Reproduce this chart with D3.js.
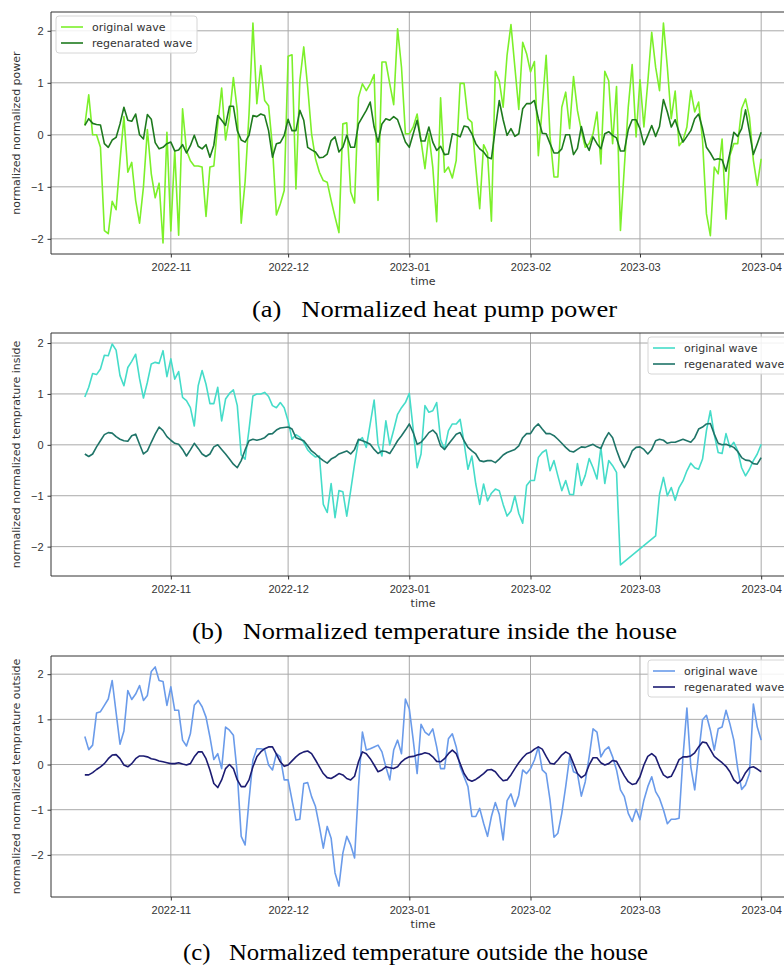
<!DOCTYPE html>
<html>
<head>
<meta charset="utf-8">
<script src="https://cdn.jsdelivr.net/npm/d3@7/dist/d3.min.js"></script>
<style>
  body { margin: 0; background: #fff; }
</style>
</head>
<body>
<div class="figure"></div>
<script>
// one value per day, starting 2022-10-10 and ending 2023-04-01
const startDay = "2022-10-10";
const monthTicks = ["2022-11-01", "2022-12-01", "2023-01-01", "2023-02-01", "2023-03-01", "2023-04-01"];
const yTicks = [-2, -1, 0, 1, 2];
const legendNames = ["original wave", "regenarated wave"];

const powerOriginal = [
  0.18, 0.77, 0.0, 0.0, -0.24, -1.84, -1.9, -1.28, -1.44, -0.5,
  0.35, -0.72, -0.53, -1.26, -1.7, -1.0, 0.1, -0.75, -1.21, -0.93,
  -2.08, 0.05, -1.85, -0.3, -1.93, 0.5, -0.3, -0.5, -0.6, -0.6,
  -0.62, -1.57, -0.62, -0.6, 0.2, 0.9, -0.1, 0.35, 1.1, 0.47,
  -1.7, -0.9, 0.4, 2.15, 0.6, 1.33, 0.66, 0.56, -0.24, -1.54,
  -1.33, -1.07, 1.51, 1.54, -1.04, 1.04, 1.69, 0.92, 0.02, -0.46,
  -0.72, -0.88, -0.91, -1.26, -1.58, -1.88, 0.21, 0.23, -1.1, -1.31,
  0.72, 0.98, 0.85, 0.98, 1.16, -1.26, 1.4, 1.4, 0.98, 0.58,
  2.04, 1.3, 0.02, 0.02, 0.15, 0.4, -0.11, -0.65, 0.02, -0.62,
  -1.67, 0.71, -0.72, -0.62, -0.83, -0.49, 0.99, 0.99, 0.31, 0.24,
  -0.62, -1.42, -0.19, -0.35, -1.66, 1.22, 1.04, 0.53, 1.53, 2.12,
  1.3, 0.49, 1.78, 1.56, 1.21, 1.41, -0.4, 0.53, 1.53, -0.04,
  -0.81, -0.81, 0.53, 0.82, 0.12, 1.12, 0.47, 0.08, -0.24, -0.17,
  0.02, 0.44, -0.56, 1.22, 1.04, -0.17, 0.93, -1.84, -0.62, 0.53,
  1.35, -0.04, 1.06, 0.15, 1.01, 1.97, 1.3, 0.85, 2.15, 1.3,
  0.31, 0.84, -0.21, -0.11, 0.15, 0.85, 0.44, 0.63, -0.11, -1.52,
  -1.94, -0.62, -0.75, -0.08, -1.62, -0.4, -0.17, -0.17, 0.5, 0.69,
  0.34, -0.49, -0.97, -0.46
];
const powerRegen = [
  0.18, 0.31, 0.22, 0.2, 0.19, -0.17, -0.24, -0.1, -0.05, 0.21,
  0.53, 0.28, 0.26, 0.4, 0.0, -0.08, 0.39, 0.3, -0.15, -0.27,
  -0.24, -0.17, -0.14, -0.31, -0.29, -0.19, -0.35, -0.21, -0.01, -0.22,
  -0.27, -0.19, -0.43, -0.2, 0.37, 0.28, 0.18, 0.55, 0.55, 0.08,
  -0.1, -0.14, -0.01, 0.37, 0.35, 0.4, 0.37, 0.08, -0.43, -0.17,
  -0.15, -0.01, 0.3, 0.08, 0.08, 0.47, 0.28, -0.24, -0.29, -0.33,
  -0.44, -0.43, -0.37, -0.11, -0.04, -0.33, -0.24, -0.01, -0.24, -0.24,
  0.21, 0.34, 0.47, 0.63, 0.15, -0.14, 0.21, 0.31, 0.28, 0.35,
  0.29, 0.08, -0.14, -0.24, 0.02, 0.28, -0.12, -0.12, 0.15, -0.14,
  -0.3, -0.22, -0.38, -0.37, 0.02, 0.0, -0.04, 0.17, 0.15, 0.02,
  -0.17, -0.27, -0.33, -0.43, -0.46, 0.12, 0.66, 0.29, -0.01, 0.12,
  -0.03, 0.02, 0.5, 0.6, 0.6, 0.66, 0.31, 0.03, 0.02, -0.17,
  -0.35, -0.35, -0.27, 0.0, 0.0, -0.38, -0.26, 0.16, -0.15, -0.3,
  -0.04, -0.17, -0.27, 0.02, 0.06, -0.01, -0.06, -0.31, -0.31, 0.1,
  0.29, 0.29, 0.12, -0.19, -0.01, 0.18, -0.03, 0.16, 0.68, 0.44,
  0.15, 0.29, 0.05, -0.14, -0.03, 0.08, 0.31, 0.4, 0.12, -0.24,
  -0.35, -0.48, -0.46, -0.48, -0.7, -0.35, 0.05, -0.03, 0.12, 0.48,
  0.05, -0.38, -0.17, 0.05
];

// null = day missing in the original series (line just jumps over it)
const insideOriginal = [
  0.94, 1.13, 1.4, 1.38, 1.49, 1.76, 1.75, 1.98, 1.86, 1.36,
  1.16, 1.52, 1.64, 1.78, 1.3, 0.92, 1.23, 1.59, 1.62, 1.6,
  1.85, 1.34, 1.69, 1.29, 1.44, 0.93, 0.87, 0.73, 0.37, 1.16,
  1.46, 1.19, 0.81, 0.81, 1.13, 0.47, 0.9, 1.01, 1.08, 0.77,
  -0.2, -0.28, 0.3, 0.96, 1.0, 1.0, 1.03, 0.95, 0.77, 0.73,
  0.83, 0.73, 0.47, 0.11, 0.2, 0.15, 0.05, -0.1, -0.18, -0.24,
  -0.22, -1.17, -1.33, -0.76, -1.43, -0.9, -0.92, -1.4, -0.9, -0.38,
  0.08, 0.14, -0.05, 0.41, 0.88, 0.0, -0.22, 0.47, 0.0, 0.29,
  0.6, 0.73, 0.83, 1.01, 0.3, -0.45, -0.18, 0.77, 0.64, 0.67,
  0.83, 0.1, -0.09, 0.28, 0.41, 0.41, 0.5, 0.05, -0.48, -0.22,
  -0.77, -1.17, -0.77, -1.1, -0.95, -0.87, -0.9, -1.17, -1.4, -1.3,
  -1.0, -1.35, -1.54, -0.8, -0.7, -0.7, -0.25, -0.15, -0.1, -0.51,
  -0.31, -0.61, -0.9, -0.7, -0.97, -0.98, -0.37, -0.8, -0.6, -0.27,
  -0.45, -0.67, -0.05, -0.76, -0.31, -0.41, -0.54, -2.36, null, null,
  null, null, null, null, null, null, -1.79, -0.97, -0.64, -1.0,
  -0.84, -1.09, -0.84, -0.71, -0.51, -0.36, -0.45, -0.48, -0.28, 0.28,
  0.67, 0.2, -0.15, -0.17, 0.22, -0.05, 0.05, -0.12, -0.45, -0.61,
  -0.48, -0.31, -0.18, 0.01
];
const insideRegen = [
  -0.18, -0.23, -0.18, -0.04, 0.08, 0.2, 0.24, 0.23, 0.16, 0.11,
  0.08, 0.07, 0.18, 0.21, 0.01, -0.18, -0.12, 0.05, 0.21, 0.35,
  0.28, 0.16, 0.09, 0.03, 0.01, -0.09, -0.22, -0.1, 0.03, -0.07,
  -0.18, -0.23, -0.18, -0.04, 0.0, -0.09, -0.18, -0.28, -0.38, -0.45,
  -0.31, -0.1, 0.08, 0.11, 0.09, 0.11, 0.14, 0.21, 0.22, 0.29,
  0.33, 0.34, 0.35, 0.31, 0.14, 0.11, 0.08, -0.02, -0.12, -0.18,
  -0.25, -0.31, -0.36, -0.28, -0.24, -0.18, -0.15, -0.12, -0.18, -0.09,
  0.11, 0.08, 0.05, 0.01, -0.09, -0.17, -0.12, -0.13, -0.17, -0.05,
  0.08, 0.18, 0.29, 0.41, 0.24, 0.01, 0.05, 0.14, 0.24, 0.29,
  0.21, -0.02, -0.09, 0.01, 0.11, 0.21, 0.24, 0.08, -0.05, -0.12,
  -0.18, -0.31, -0.33, -0.31, -0.31, -0.35, -0.28, -0.2, -0.15, -0.12,
  -0.09, -0.02, 0.14, 0.22, 0.22, 0.34, 0.41, 0.31, 0.22, 0.22,
  0.18, 0.11, 0.03, -0.05, -0.12, -0.14, -0.09, -0.04, -0.05, -0.02,
  0.01, -0.04, -0.07, 0.11, 0.24, 0.14, -0.1, -0.31, -0.45, -0.31,
  -0.12, -0.05, -0.04, -0.09, -0.18, -0.09, 0.08, 0.11, 0.09, 0.03,
  0.05, 0.05, 0.08, 0.11, 0.08, 0.05, 0.14, 0.31, 0.35, 0.41,
  0.42, 0.21, 0.03, 0.0, 0.01, -0.02, -0.05, -0.13, -0.25, -0.3,
  -0.31, -0.37, -0.38, -0.25
];

const outsideOriginal = [
  0.62, 0.33, 0.43, 1.14, 1.17, 1.31, 1.45, 1.86, 1.15, 0.45,
  0.74, 1.64, 1.44, 1.56, 1.75, 1.42, 1.53, 2.06, 2.16, 1.86,
  1.84, 1.31, 1.72, 1.2, 1.2, 0.54, 0.41, 0.68, 1.31, 1.42,
  1.28, 1.05, 0.61, 0.11, 0.24, -0.09, 0.83, 0.76, 0.65, -0.2,
  -1.59, -1.78, -0.79, 0.1, 0.35, 0.35, 0.33, -0.01, -0.12, 0.24,
  0.17, -0.34, -0.34, -0.79, -1.23, -1.21, -0.42, -0.4, -0.71, -0.93,
  -1.37, -1.85, -1.37, -1.63, -2.4, -2.69, -1.96, -1.59, -1.78, -2.07,
  -0.5, 0.72, 0.32, 0.35, 0.39, 0.43, 0.28, -0.05, -0.34, 0.32,
  0.54, 0.24, 1.45, 1.23, 0.54, -0.2, 0.89, 0.72, 0.65, 0.79,
  0.39, -0.09, -0.09, 0.57, 0.68, 0.39, -0.05, -0.27, -0.49, -1.15,
  -1.15, -0.97, -1.3, -1.59, -1.15, -0.84, -1.1, -1.67, -0.8, -0.65,
  -0.93, -0.68, -0.12, -0.2, -0.09, 0.1, 0.39, -0.12, -0.2, -0.79,
  -1.61, -1.52, -1.08, -0.49, 0.17, -0.16, -0.2, -0.7, -0.38, 0.17,
  0.79, 0.72, 0.17, 0.32, 0.39, 0.17, -0.12, -0.56, -0.71, -1.08,
  -1.26, -0.99, -1.22, -0.79, -0.49, -0.27, -0.6, -0.75, -1.0, -1.31,
  -1.21, -1.21, -1.19, 0.17, 1.25, -0.05, -0.56, 0.24, 0.99, 1.09,
  0.76, 0.32, 0.79, 0.83, 1.2, 0.9, 0.54, -0.09, -0.55, -0.45,
  -0.2, 1.34, 0.83, 0.54
];
const outsideRegen = [
  -0.23, -0.23, -0.18, -0.11, -0.05, 0.02, 0.13, 0.21, 0.22, 0.13,
  -0.01, -0.05, 0.02, 0.13, 0.19, 0.19, 0.17, 0.13, 0.11, 0.08,
  0.06, 0.04, 0.02, 0.02, 0.04, 0.01, -0.01, 0.02, 0.17, 0.28,
  0.28, 0.13, -0.12, -0.42, -0.51, -0.34, -0.09, 0.0, -0.09, -0.34,
  -0.49, -0.49, -0.34, -0.05, 0.17, 0.28, 0.35, 0.39, 0.39, 0.23,
  0.06, -0.04, -0.01, 0.08, 0.17, 0.24, 0.28, 0.3, 0.24, 0.1,
  -0.05, -0.2, -0.29, -0.31, -0.26, -0.2, -0.23, -0.31, -0.34, -0.26,
  0.06, 0.28, 0.24, 0.13, -0.01, -0.16, -0.12, -0.05, -0.07, -0.09,
  -0.05, 0.06, 0.13, 0.17, 0.18, 0.21, 0.23, 0.26, 0.24, 0.17,
  0.07, 0.06, 0.13, 0.24, 0.32, 0.24, 0.02, -0.2, -0.33, -0.37,
  -0.33, -0.27, -0.2, -0.12, -0.11, -0.16, -0.27, -0.36, -0.34, -0.23,
  -0.09, 0.04, 0.15, 0.24, 0.27, 0.34, 0.39, 0.34, 0.18, 0.03,
  0.01, 0.1, 0.21, 0.28, 0.23, 0.02, -0.2, -0.29, -0.23, -0.01,
  0.15, 0.15, 0.04, -0.01, 0.02, 0.09, 0.07, -0.09, -0.25, -0.38,
  -0.44, -0.42, -0.27, -0.01, 0.18, 0.24, 0.17, -0.05, -0.23, -0.29,
  -0.26, -0.09, 0.11, 0.17, 0.17, 0.19, 0.26, 0.39, 0.5, 0.48,
  0.33, 0.18, 0.11, 0.04, -0.04, -0.16, -0.34, -0.42, -0.34, -0.18,
  -0.07, -0.05, -0.1, -0.16
];

const width = 784;
const height = 966;
const plotLeft = 51;
const plotRight = 795;   // the right edge of the figure is cut off

const panels = [
  {top: 12, bottom: 254, original: powerOriginal, regen: powerRegen,
   colors: ["#7cf02a", "#1e7a1e"], ylabel: "normalized normalized power",
   legendLeft: true, caption: "(a)\u2002 Normalized heat pump power", capX: 252, capW: 365},
  {top: 333, bottom: 576, original: insideOriginal, regen: insideRegen,
   colors: ["#45dcc9", "#1f7468"], ylabel: "normalized normalized temprature inside",
   legendLeft: false, caption: "(b)\u2002 Normalized temperature inside the house", capX: 192, capW: 485},
  {top: 656, bottom: 897, original: outsideOriginal, regen: outsideRegen,
   colors: ["#6a9bea", "#1c1c72"], ylabel: "normalized normalized temprature outside",
   legendLeft: false, caption: "(c)\u2002 Normalized temperature outside the house", capX: 183, capW: 465}
];

const parseDay = d3.utcParse("%Y-%m-%d");
const start = parseDay(startDay);
const dayMs = 864e5;

const svg = d3.select(".figure")
  .append("svg")
  .attr("width", width)
  .attr("height", height)
  .style("font-family", "DejaVu Sans, sans-serif");

svg.append("rect")
  .attr("width", width)
  .attr("height", height)
  .attr("fill", "#fff");

function drawPanel(p) {
  const n = p.original.length;
  const toPoints = arr => arr
    .map((v, i) => ({date: d3.utcDay.offset(start, i), value: v}))
    .filter(d => d.value !== null);
  const orig = toPoints(p.original);
  const regen = toPoints(p.regen);

  // matplotlib style 5% margins on both axes
  const pad = (n - 1) * 0.05 * dayMs;
  const x = d3.scaleUtc()
    .domain([new Date(+start - pad), new Date(+start + (n - 1) * dayMs + pad)])
    .range([plotLeft, plotRight]);

  const all = orig.concat(regen).map(d => d.value);
  const lo = d3.min(all), hi = d3.max(all);
  const y = d3.scaleLinear()
    .domain([lo - (hi - lo) * 0.05, hi + (hi - lo) * 0.05])
    .range([p.bottom, p.top]);

  const g = svg.append("g");
  const ticksX = monthTicks.map(parseDay);

  // grid
  g.append("g")
    .selectAll("line")
    .data(yTicks)
    .enter()
    .append("line")
    .attr("x1", plotLeft)
    .attr("x2", plotRight)
    .attr("y1", d => y(d))
    .attr("y2", d => y(d))
    .attr("stroke", "#a9a9a9")
    .attr("stroke-width", 1);

  g.append("g")
    .selectAll("line")
    .data(ticksX)
    .enter()
    .append("line")
    .attr("x1", d => x(d))
    .attr("x2", d => x(d))
    .attr("y1", p.top)
    .attr("y2", p.bottom)
    .attr("stroke", "#a9a9a9")
    .attr("stroke-width", 1);

  // axes
  const xAxis = g.append("g")
    .attr("transform", `translate(0, ${p.bottom})`)
    .call(d3.axisBottom(x).tickValues(ticksX).tickFormat(d3.utcFormat("%Y-%m")).tickSize(3.5).tickPadding(5.5));
  xAxis.select(".domain").remove();

  const yAxis = g.append("g")
    .attr("transform", `translate(${plotLeft}, 0)`)
    .call(d3.axisLeft(y).tickValues(yTicks).tickFormat(d => d < 0 ? "\u2212" + Math.abs(d) : d).tickSize(3.5).tickPadding(4));
  yAxis.select(".domain").remove();

  [xAxis, yAxis].forEach(a => {
    a.selectAll("text")
      .style("font-size", "11px")
      .attr("fill", "#333");
    a.selectAll("line").attr("stroke", "#333");
  });

  // frame (left, top, bottom)
  g.append("path")
    .attr("d", `M${plotRight},${p.top}H${plotLeft}V${p.bottom}H${plotRight}`)
    .attr("fill", "none")
    .attr("stroke", "#333")
    .attr("stroke-width", 1);

  // lines
  const line = d3.line()
    .x(d => x(d.date))
    .y(d => y(d.value));

  g.append("path")
    .datum(orig)
    .attr("d", line)
    .attr("fill", "none")
    .attr("stroke", p.colors[0])
    .attr("stroke-width", 1.6)
    .attr("stroke-linejoin", "round");

  g.append("path")
    .datum(regen)
    .attr("d", line)
    .attr("fill", "none")
    .attr("stroke", p.colors[1])
    .attr("stroke-width", 1.6)
    .attr("stroke-linejoin", "round");

  // labels
  g.append("text")
    .attr("transform", `translate(16, ${(p.top + p.bottom) / 2}) rotate(-90)`)
    .attr("text-anchor", "middle")
    .attr("dy", "0.35em")
    .style("font-size", "11px")
    .attr("fill", "#333")
    .text(p.ylabel);

  g.append("text")
    .attr("x", (plotLeft + plotRight) / 2)
    .attr("y", p.bottom + 31)
    .attr("text-anchor", "middle")
    .style("font-size", "11px")
    .attr("fill", "#333")
    .text("time");

  // legend
  const lx = p.legendLeft ? plotLeft + 5 : 648;
  const leg = g.append("g")
    .attr("transform", `translate(${lx}, ${p.top + 4})`);
  leg.append("rect")
    .attr("width", 141)
    .attr("height", 37)
    .attr("rx", 3)
    .attr("fill", "#fff")
    .attr("fill-opacity", 0.85)
    .attr("stroke", "#d6d6d6");
  legendNames.forEach((name, i) => {
    leg.append("line")
      .attr("x1", 5)
      .attr("x2", 27)
      .attr("y1", 11 + i * 16)
      .attr("y2", 11 + i * 16)
      .attr("stroke", p.colors[i])
      .attr("stroke-width", 1.6);
    leg.append("text")
      .attr("x", 36)
      .attr("y", 11 + i * 16)
      .attr("dy", "0.35em")
      .style("font-size", "11px")
      .attr("fill", "#333")
      .text(name);
  });

  // caption under the panel
  g.append("text")
    .attr("x", p.capX)
    .attr("y", p.bottom + 63)
    .attr("textLength", p.capW)
    .attr("lengthAdjust", "spacingAndGlyphs")
    .style("font-family", "Liberation Serif, Times New Roman, serif")
    .style("font-size", "24px")
    .attr("fill", "#000")
    .text(p.caption);
}

panels.forEach(drawPanel);
</script>
</body>
</html>
